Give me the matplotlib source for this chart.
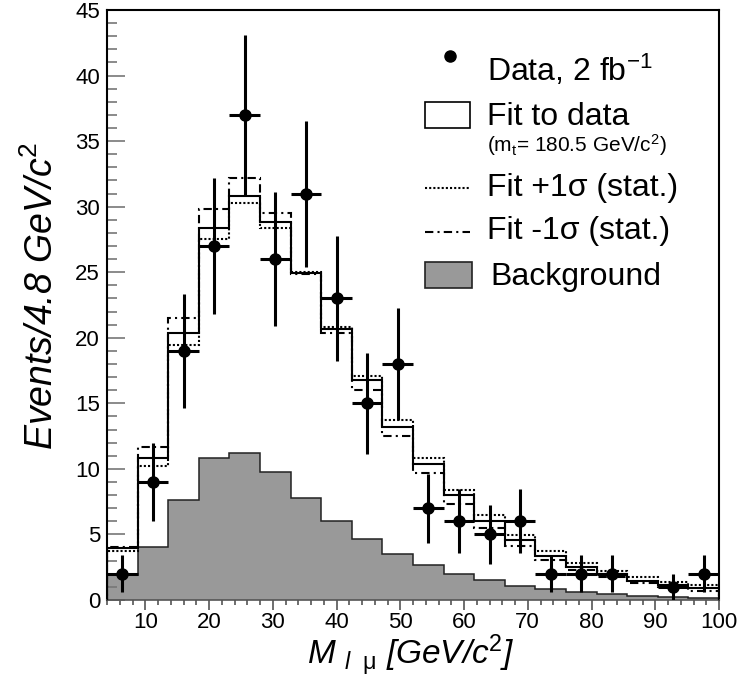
import numpy as np
import matplotlib
matplotlib.use("Agg")
import matplotlib.pyplot as plt
from matplotlib.ticker import MultipleLocator
from matplotlib.patches import Rectangle
from matplotlib.lines import Line2D

plt.rcParams['font.family'] = ['Liberation Sans', 'DejaVu Sans']
plt.rcParams['mathtext.fontset'] = 'custom'
plt.rcParams['mathtext.rm'] = 'Liberation Sans'
plt.rcParams['mathtext.it'] = 'Liberation Sans:italic'
plt.rcParams['mathtext.default'] = 'rm'

# bins of 4.8 GeV/c^2 from 4 to 100
edges = np.linspace(4, 100, 21)
centers = 0.5 * (edges[:-1] + edges[1:])

# observed events per bin
data = [2, 9, 19, 27, 37, 26, 31, 23, 15, 18, 7, 6, 5, 6, 2, 2, 2, 0, 1, 2]

# fit to data (m_t = 180.5)
fit = [3.94, 10.8, 20.4, 28.35, 30.85, 28.85, 24.95, 20.65, 16.75, 13.2,
       10.35, 8.0, 6.05, 4.6, 3.35, 2.55, 1.95, 1.47, 1.12, 0.89]
# fit +1 sigma (dotted)
fit_up = [3.7, 10.2, 19.45, 27.5, 30.25, 28.35, 25.0, 20.85, 17.05, 13.7,
          10.8, 8.4, 6.45, 4.95, 3.75, 2.85, 2.25, 1.73, 1.37, 1.14]
# fit -1 sigma (dash-dot)
fit_dn = [4.07, 11.65, 21.5, 29.8, 32.2, 29.55, 24.9, 20.35, 16.05, 12.5,
          9.65, 7.35, 5.5, 4.1, 3.05, 2.3, 1.78, 1.27, 0.97, 0.71]
# background
bkg = [1.9, 4.07, 7.63, 10.85, 11.25, 9.8, 7.8, 6.05, 4.63, 3.48,
       2.64, 2.01, 1.53, 1.07, 0.81, 0.58, 0.43, 0.3, 0.23, 0.18]

W, H = 744, 678
fig = plt.figure(figsize=(W / 100, H / 100), dpi=100)


def fx(x):
    return x / W


def fy(y):
    return 1 - y / H


ax = fig.add_axes([fx(107), fy(600), (719 - 107) / W, (600 - 10) / H])

# background histogram
ax.stairs(bkg, edges, fill=True, color='#999999', zorder=1)
ax.stairs(bkg, edges, color='#222222', lw=1.1, zorder=2)

# fit histograms
ax.stairs(fit_up, edges, color='black', lw=1.5, linestyle=(0, (1, 1)), zorder=3)
ax.stairs(fit_dn, edges, color='black', lw=1.5, linestyle=(0, (4, 2, 1, 2)), zorder=3)
ax.stairs(fit, edges, color='black', lw=1.5, zorder=4)

# data points with poisson errors
d = np.array(data, dtype=float)
m = d > 0
ax.errorbar(centers[m], d[m], yerr=np.sqrt(d[m]), xerr=2.4, fmt='o',
            color='black', ms=8, elinewidth=2.2, capsize=0, zorder=5)

ax.set_xlim(4, 100)
ax.set_ylim(0, 45)

ax.xaxis.set_major_locator(MultipleLocator(10))
ax.xaxis.set_minor_locator(MultipleLocator(2))
ax.yaxis.set_major_locator(MultipleLocator(5))
ax.yaxis.set_minor_locator(MultipleLocator(1))

ax.tick_params(axis='y', which='major', direction='in', length=13, width=1.2,
               color='#777777', labelsize=16, pad=5)
ax.tick_params(axis='y', which='minor', direction='in', length=7, width=1.2,
               color='#777777')
ax.tick_params(axis='x', which='major', direction='out', length=7, width=1.2,
               color='#555555', labelsize=16, pad=2)
ax.tick_params(axis='x', which='minor', direction='out', length=3.5, width=1.2,
               color='#555555')

for s in ['left', 'top', 'right']:
    ax.spines[s].set_linewidth(1.5)
    ax.spines[s].set_color('black')
ax.spines['bottom'].set_linewidth(1.2)
ax.spines['bottom'].set_color('#555555')

# axis titles
fig.text(fx(42), fy(296), "Events/4.8 GeV/c$^{\\mathit{2}}$", rotation=90,
         ha='center', va='center', fontsize=27, style='italic')
fig.text(fx(411), fy(678), "M $_{\\mathit{l}\\ \\ \\mathrm{μ}}$ [GeV/c$^{\\mathit{2}}$]",
         ha='center', va='bottom', fontsize=24, style='italic')

# legend drawn by hand, ROOT style
fig.add_artist(Line2D([fx(450)], [fy(56)], marker='o', ms=8, color='black',
                      transform=fig.transFigure))
fig.text(fx(487), fy(70), "Data, 2 fb$^{-1}$", fontsize=23, va='center')

fig.add_artist(Rectangle((fx(425), fy(128)), fx(45), 26 / H, facecolor='white',
                         edgecolor='black', lw=1.2, transform=fig.transFigure))
fig.text(fx(487), fy(117), "Fit to data", fontsize=23, va='center')
fig.text(fx(487), fy(145), "(m$_{\\mathrm{t}}$= 180.5 GeV/c$^{2}$)", fontsize=15,
         va='center')

fig.add_artist(Line2D([fx(425), fx(470)], [fy(188), fy(188)], color='black',
                      lw=1.5, linestyle=(0, (1, 1)), transform=fig.transFigure))
fig.text(fx(487), fy(188), "Fit +1σ (stat.)", fontsize=23, va='center')

fig.add_artist(Line2D([fx(425), fx(470)], [fy(232), fy(232)], color='black',
                      lw=1.5, linestyle=(0, (4, 2, 1, 2)), transform=fig.transFigure))
fig.text(fx(487), fy(231), "Fit -1σ (stat.)", fontsize=23, va='center')

fig.add_artist(Rectangle((fx(425), fy(288)), fx(47), 26 / H, facecolor='#999999',
                         edgecolor='#222222', lw=1.2, transform=fig.transFigure))
fig.text(fx(490), fy(277), "Background", fontsize=23, va='center')

fig.savefig("out.png", dpi=100)
